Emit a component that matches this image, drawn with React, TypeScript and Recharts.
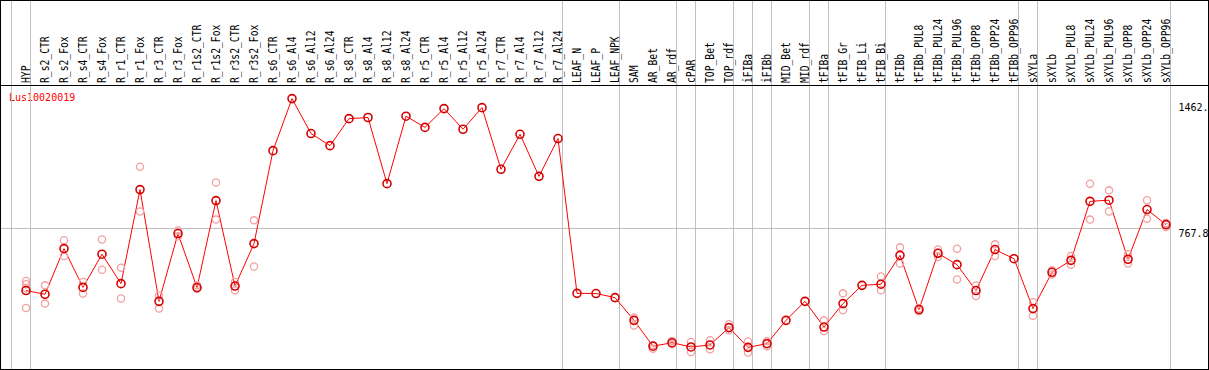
import React from 'react';
import { ComposedChart, Line, Scatter, XAxis, YAxis, ReferenceLine } from 'recharts';

const categories = [
  'HYP', 'R_s2_CTR', 'R_s2_Fox', 'R_s4_CTR', 'R_s4_Fox', 'R_r1_CTR', 'R_r1_Fox', 'R_r3_CTR', 'R_r3_Fox',
  'R_r1s2_CTR', 'R_r1s2_Fox', 'R_r3s2_CTR', 'R_r3s2_Fox', 'R_s6_CTR', 'R_s6_Al4', 'R_s6_Al12', 'R_s6_Al24',
  'R_s8_CTR', 'R_s8_Al4', 'R_s8_Al12', 'R_s8_Al24', 'R_r5_CTR', 'R_r5_Al4', 'R_r5_Al12', 'R_r5_Al24',
  'R_r7_CTR', 'R_r7_Al4', 'R_r7_Al12', 'R_r7_Al24', 'LEAF_N', 'LEAF_P', 'LEAF_NPK', 'SAM', 'AR_Bet', 'AR_rdf',
  'cPAR', 'TOP_Bet', 'TOP_rdf', 'iFIBa', 'iFIBb', 'MID_Bet', 'MID_rdf', 'tFIBa', 'tFIB_Gr', 'tFIB_Li', 'tFIB_Bi',
  'tFIBb', 'tFIBb_PUL8', 'tFIBb_PUL24', 'tFIBb_PUL96', 'tFIBb_OPP8', 'tFIBb_OPP24', 'tFIBb_OPP96', 'sXYLa',
  'sXYLb', 'sXYLb_PUL8', 'sXYLb_PUL24', 'sXYLb_PUL96', 'sXYLb_OPP8', 'sXYLb_OPP24', 'sXYLb_OPP96',
];

// mean expression per sample
const meanValues = [
  432, 412, 657, 449, 627, 469, 974, 374, 738, 448, 915, 456, 684, 1183, 1462.5, 1275, 1210,
  1355, 1361, 1006, 1368, 1308, 1409, 1298, 1414, 1083, 1271, 1045, 1248, 417, 416, 394, 272,
  133, 152, 129, 140, 233, 127, 147, 272, 374, 236, 362, 460, 466, 621, 330, 632, 571, 432,
  652, 603, 335, 530, 594, 911, 917, 600, 867, 786,
];

// individual replicates (null = none shown)
const replicateA = [
  483, 460, 702, 478, 706, 555, 1097, 406, 755, 460, 1012, 478, 809, null, null, null, null,
  null, null, null, null, null, null, null, null, null, null, null, null, null, null, null, 287,
  140, 161, 156, 165, 251, 159, 161, null, null, 272, 417, null, 507, 664, 337, 652, 657, 459,
  680, null, 369, 541, 617, 1006, 970, 627, 917, 795,
];
const replicateB = [
  338, 362, 617, 416, 544, 389, 856, 335, 723, 442, 813, 433, 561, null, null, null, null,
  null, null, null, null, null, null, null, null, null, null, null, null, null, null, null, 244,
  120, 143, 102, 117, 219, 99, 133, null, null, 215, 326, null, 433, 577, 321, 612, 491, 403,
  617, null, 297, 518, 571, 813, 856, 577, 818, 773,
];
const extraReplicates = [
  { category: 'HYP', value: 466 },
  { category: 'HYP', value: 444 },
];

// group boundaries: a grey rule follows these samples
const groupEnds = ['HYP', 'R_r7_Al24', 'LEAF_NPK', 'AR_rdf', 'cPAR', 'TOP_rdf', 'iFIBa', 'iFIBb', 'MID_rdf',
  'tFIBa', 'tFIB_Bi', 'tFIBb_OPP96', 'sXYLa', 'sXYLb_OPP96'];

const yTicks = [0, 767.8, 1462.5];
const yTickLabels = ['0', '767.8', '1462.'];

const geneName = 'Lus10020019';

const FONT = '"DejaVu Sans Mono", monospace';
const GRID = '#c0c0c0';
const SEP = 0.2368; // rule sits just right of the sample

const mainData = categories.map((c, i) => ({ idx: i, value: meanValues[i] }));
const repData = [
  ...categories.map((c, i) => ({ idx: i, value: replicateA[i] })),
  ...categories.map((c, i) => ({ idx: i, value: replicateB[i] })),
  ...extraReplicates.map((r) => ({ idx: categories.indexOf(r.category), value: r.value })),
].filter((d) => d.value !== null);

const sepIdx = [-1, ...groupEnds.map((g) => categories.indexOf(g))];
const xTicks = [-1, ...categories.map((c, i) => i)];

const HeaderTick = (props: any) => {
  const { x, payload } = props;
  const i = payload.value;
  const label = categories[i];
  return (
    <g>
      {sepIdx.includes(i) && (
        <line x1={x + 4.5} x2={x + 4.5} y1={0} y2={85} stroke={GRID} strokeWidth={1} />
      )}
      {label && (
        <text
          transform={`translate(${x + 3.6},83) rotate(-90) scale(0.97,1.18)`}
          fontSize={10}
          fontFamily={FONT}
          fill="#000"
        >
          {label}
        </text>
      )}
    </g>
  );
};

const ValueTick = (props: any) => {
  const { y, payload } = props;
  const k = yTicks.indexOf(payload.value);
  const dy = payload.value === 0 ? -5.5 : payload.value > 1000 ? 12.4 : 8.7;
  return (
    <text x={1178.5} y={y + dy} fontSize={10} fontFamily={FONT} fill="#000" textAnchor="start">
      {yTickLabels[k]}
    </text>
  );
};

const MeanDot = (props: any) => {
  const { cx, cy } = props;
  if (cx == null || cy == null) return null;
  return <circle cx={cx} cy={cy} r={4} fill="none" stroke="#d40000" strokeWidth={1.6} />;
};

const RepDot = (props: any) => {
  const { cx, cy } = props;
  return <circle cx={cx} cy={cy} r={3.6} fill="none" stroke="#f2a0a0" strokeWidth={1.3} />;
};

export default function App() {
  return (
    <div style={{ position: 'relative', width: 1209, height: 370, overflow: 'hidden', background: '#fff' }}>
      <style>{'body{margin:0}'}</style>
      <ComposedChart width={1209} height={371} margin={{ top: 0, right: 0, bottom: 0, left: 1 }}>
        <XAxis
          xAxisId={0}
          orientation="top"
          type="number"
          dataKey="idx"
          domain={[-1.31579, 60.26316]}
          allowDataOverflow
          ticks={xTicks}
          interval={0}
          height={85}
          axisLine={false}
          tickLine={false}
          tick={<HeaderTick />}
        />
        <YAxis
          orientation="right"
          type="number"
          domain={[0, 1535.6]}
          allowDataOverflow
          ticks={yTicks}
          width={38}
          axisLine={false}
          tickLine={false}
          tickSize={0}
          tick={<ValueTick />}
        />
        <ReferenceLine y={767.8} stroke={GRID} strokeWidth={1} shapeRendering="crispEdges" />
        {sepIdx.map((i) => (
          <ReferenceLine key={i} x={i + SEP} stroke={GRID} strokeWidth={1} />
        ))}
        <Scatter data={repData} dataKey="value" shape={<RepDot />} isAnimationActive={false} />
        <Line
          data={mainData}
          dataKey="value"
          stroke="#ff0000"
          strokeWidth={1}
          dot={<MeanDot />}
          activeDot={false}
          isAnimationActive={false}
        />
        <text x={9} y={101} fontSize={10} fontFamily={FONT} fill="#ff0000">
          {geneName}
        </text>
      </ComposedChart>
      <div style={{ position: 'absolute', left: 0, top: 85, width: 1209, height: 1, background: '#000' }} />
      <div
        style={{
          position: 'absolute', left: 0, top: 0, width: 1209, height: 370,
          border: '1px solid #000', boxSizing: 'border-box', pointerEvents: 'none',
        }}
      />
    </div>
  );
}
